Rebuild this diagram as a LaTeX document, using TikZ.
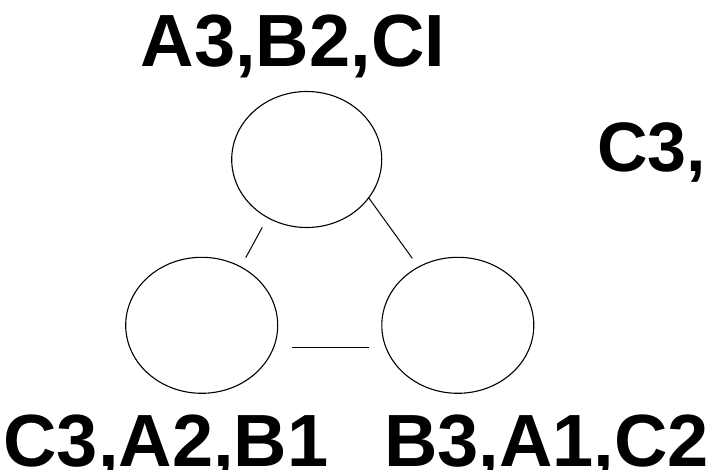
\documentclass[tikz,border=0pt]{standalone}
\usepackage{fontspec}
\setmainfont{Liberation Sans}
\usetikzlibrary{shapes.geometric}
\begin{document}
\begin{tikzpicture}[x=1pt,y=-1pt,
  circ/.style={draw=black, line width=1.1pt, ellipse, inner sep=0pt},
  link/.style={draw=black, line width=1pt},
  lab/.style={inner sep=0pt, anchor=base, font=\bfseries\fontsize{74}{80}\selectfont}]
\useasboundingbox (0,0) rectangle (711,470);
\node[circ, minimum width=150pt, minimum height=136pt] (top) at (306.7,159.5) {};
\node[circ, minimum width=152pt, minimum height=136pt] (left) at (201.7,325.3) {};
\node[circ, minimum width=152pt, minimum height=136pt] (right) at (457.8,325.3) {};
\coordinate (l1a) at (262.3,227.3);
\coordinate (l1b) at (245.7,257.7);
\coordinate (l2a) at (368.3,197.3);
\coordinate (l2b) at (412.3,258.3);
\coordinate (l3a) at (291.7,347.3);
\coordinate (l3b) at (368.7,347.3);
\draw[link] (l1a) -- (l1b);
\draw[link] (l2a) -- (l2b);
\draw[link] (l3a) -- (l3b);
\node[lab] (ttop) at (293,66.7) {A3,B2,CI};
\node[lab, anchor=base west, font=\bfseries\fontsize{70}{76}\selectfont] (tright) at (597,171.7) {C3,};
\node[lab] (tleft) at (166,466.7) {C3,A2,B1};
\node[lab] (tbright) at (546.5,466.7) {B3,A1,C2};
\end{tikzpicture}
\end{document}
